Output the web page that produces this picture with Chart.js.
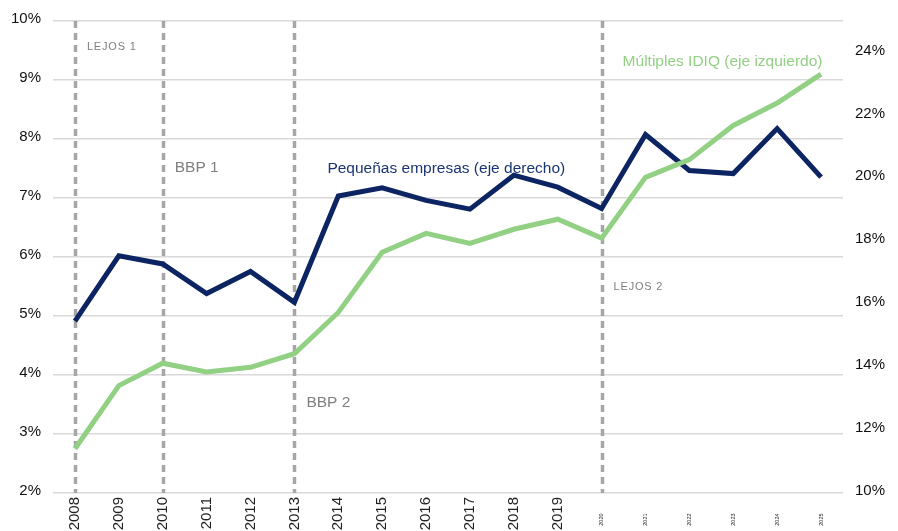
<!DOCTYPE html>
<html lang="es">
<head>
<meta charset="utf-8">
<title>Múltiples IDIQ y pequeñas empresas</title>
<script src="https://cdn.jsdelivr.net/npm/chart.js@4.4.1/dist/chart.umd.min.js"></script>
<style>
  html, body { margin: 0; padding: 0; background: #ffffff; }
  #wrap { position: relative; width: 898px; height: 531px; }
</style>
</head>
<body>
<div id="wrap"><canvas id="chart"></canvas></div>
<script>
// Fiscal years on the horizontal axis
const years = ['2008','2009','2010','2011','2012','2013','2014','2015','2016',
               '2017','2018','2019','2020','2021','2022','2023','2024','2025'];

// Share of obligations through multiple-award IDIQ vehicles (left axis, %)
const multiplesIdiq = [2.75, 3.82, 4.20, 4.05, 4.13, 4.36, 5.06, 6.08, 6.40,
                       6.23, 6.47, 6.64, 6.32, 7.35, 7.65, 8.23, 8.61, 9.10];

// Share going to small businesses (right axis, %)
const pequenasEmpresas = [15.46, 17.54, 17.28, 16.34, 17.04, 16.06, 19.44, 19.70, 19.30,
                          19.02, 20.10, 19.72, 19.04, 21.39, 20.25, 20.15, 21.58, 20.04];

// Right-axis tick labels
const rightTicks = [10, 12, 14, 16, 18, 20, 22, 24];

// Policy milestones marked with dashed vertical rules
const milestones = ['2008', '2010', '2013', '2020'];

// Text notes: year anchor, height on the left axis, pixel nudge x, text, style
const notes = [
  { year: '2008', left: 9.56, dx: 12, text: 'LEJOS 1', kind: 'small' },
  { year: '2010', left: 7.52, dx: 12, text: 'BBP 1',   kind: 'grey' },
  { year: '2013', left: 3.53, dx: 12, text: 'BBP 2',   kind: 'grey' },
  { year: '2020', left: 5.49, dx: 12, text: 'LEJOS 2', kind: 'small' },
  { year: '2013', left: 7.50, dx: 33, text: 'Pequeñas empresas (eje derecho)', kind: 'navy' },
  { year: '2020', left: 9.31, dx: 21, text: 'Múltiples IDIQ (eje izquierdo)',  kind: 'green' }
];

const NAVY = '#0c2462';
const GREEN = '#92d084';
const FONT = '"Liberation Sans", Arial, sans-serif';

const milestonePlugin = {
  id: 'milestones',
  beforeDatasetsDraw(chart) {
    const { ctx, chartArea, scales } = chart;
    ctx.save();
    ctx.strokeStyle = '#a6a6a6';
    ctx.lineWidth = 3.5;
    ctx.setLineDash([7, 5]);
    milestones.forEach(y => {
      const x = Math.round(scales.x.getPixelForValue(years.indexOf(y))) + 0.5;
      ctx.beginPath();
      ctx.moveTo(x, chartArea.top);
      ctx.lineTo(x, chartArea.bottom);
      ctx.stroke();
    });
    ctx.restore();
  },
  afterDatasetsDraw(chart) {
    const { ctx, scales } = chart;
    ctx.save();
    ctx.textBaseline = 'middle';
    ctx.textAlign = 'left';
    notes.forEach(n => {
      const x = scales.x.getPixelForValue(years.indexOf(n.year)) + n.dx;
      const y = scales.y.getPixelForValue(n.left);
      if (n.kind === 'small') {
        ctx.font = '11px ' + FONT;
        ctx.fillStyle = '#7f7f7f';
        ctx.letterSpacing = '0.8px';
      } else if (n.kind === 'grey') {
        ctx.font = '15.5px ' + FONT;
        ctx.fillStyle = '#808080';
        ctx.letterSpacing = '0px';
      } else if (n.kind === 'navy') {
        ctx.font = '15.5px ' + FONT;
        ctx.fillStyle = '#1b3573';
        ctx.letterSpacing = '0px';
      } else {
        ctx.font = '15.5px ' + FONT;
        ctx.fillStyle = GREEN;
        ctx.letterSpacing = '0px';
      }
      ctx.fillText(n.text, x, y);
    });
    ctx.restore();
  }
};

new Chart(document.getElementById('chart'), {
  type: 'line',
  data: {
    labels: years,
    datasets: [
      {
        label: 'Múltiples IDIQ (eje izquierdo)',
        data: multiplesIdiq,
        yAxisID: 'y',
        borderColor: GREEN,
        borderWidth: 5,
        pointRadius: 0,
        tension: 0,
        fill: false
      },
      {
        label: 'Pequeñas empresas (eje derecho)',
        data: pequenasEmpresas,
        yAxisID: 'y2',
        borderColor: NAVY,
        borderWidth: 5,
        pointRadius: 0,
        tension: 0,
        fill: false
      }
    ]
  },
  options: {
    responsive: true,
    maintainAspectRatio: false,
    animation: false,
    layout: { padding: { top: 19, left: 0, right: 0, bottom: 0 } },
    plugins: {
      legend: { display: false },
      tooltip: { enabled: false }
    },
    scales: {
      x: {
        type: 'category',
        offset: true,
        grid: { display: false, drawTicks: false },
        border: { display: false },
        afterFit(scale) { scale.height = 38; },
        ticks: {
          autoSkip: false,
          minRotation: 90,
          maxRotation: 90,
          padding: 4,
          color: '#222222',
          font(ctx) {
            return ctx.index >= 12 ? { family: FONT, size: 5.5 } : { family: FONT, size: 15 };
          },
          callback(value, index) {
            const label = years[index];
            return index >= 12 ? label + '\u2002\u2002\u2002\u2002\u2002\u2002' : label;
          }
        }
      },
      y: {
        position: 'left',
        min: 2,
        max: 10,
        grid: { color: '#d9d9d9', lineWidth: 1.5, drawTicks: false },
        border: { display: false },
        afterFit(scale) { scale.width = 53; },
        ticks: {
          stepSize: 1,
          padding: 12,
          labelOffset: -2,
          color: '#111111',
          font: { family: FONT, size: 15 },
          callback: v => v + '%'
        }
      },
      y2: {
        position: 'right',
        min: 10,
        max: 25,
        grid: { display: false, drawTicks: false },
        border: { display: false },
        afterFit(scale) { scale.width = 55; },
        afterBuildTicks(scale) { scale.ticks = rightTicks.map(v => ({ value: v })); },
        ticks: {
          padding: 12,
          labelOffset: -2,
          color: '#111111',
          font: { family: FONT, size: 15 },
          callback: v => v + '%'
        }
      }
    }
  },
  plugins: [milestonePlugin]
});
</script>
</body>
</html>
